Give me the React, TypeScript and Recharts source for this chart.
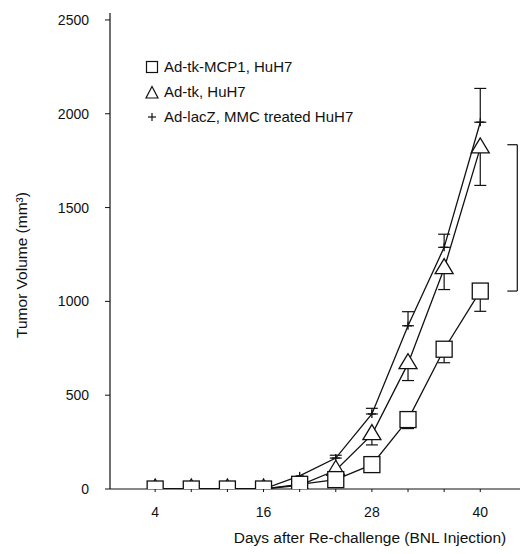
import React from "react";
import {
  ComposedChart,
  Line,
  XAxis,
  YAxis,
  ErrorBar,
  Legend,
  ReferenceLine,
  Label,
} from "recharts";

const days = [4, 8, 12, 16, 20, 24, 28, 32, 36, 40];
const mcp1 = [0, 0, 0, 0, 25, 50, 130, 370, 745, 1055];
const mcp1Err = [0, 0, 0, 0, 0, 0, 0, 48, 72, 108];
const tk = [0, 0, 0, 0, 20, 100, 290, 668, 1175, 1818];
const tkErr = [0, 0, 0, 0, 0, 0, 55, 90, 112, 200];
const lacz = [0, 0, 0, 0, 70, 165, 400, 870, 1288, 1955];
const laczErr = [0, 0, 0, 0, 0, 15, 30, 75, 70, 180];

const xTicks = [4, 8, 12, 16, 20, 24, 28, 32, 36, 40];
const xLabelTicks = [4, 16, 28, 40];
const yTicks = [0, 500, 1000, 1500, 2000, 2500];

const seriesNames = ["Ad-tk-MCP1, HuH7", "Ad-tk, HuH7", "Ad-lacZ, MMC treated HuH7"];

const bracketLow = 1055;
const bracketHigh = 1835;

const data = days.map((d, i) => ({
  day: d,
  mcp1: mcp1[i],
  mcp1Err: mcp1Err[i] > 0 ? [mcp1Err[i], 0] : undefined,
  tk: tk[i],
  tkErr: tkErr[i] > 0 ? [tkErr[i], 0] : undefined,
  lacz: lacz[i],
  laczErr: laczErr[i] > 0 ? [0, laczErr[i]] : undefined,
}));

const FONT = "'Liberation Sans', Arial, sans-serif";
const INK = "#111";

const SquareDot = (props: any) => {
  const { cx, cy } = props;
  if (cx == null || cy == null) return null;
  return <rect x={cx - 8} y={cy - 8} width={16} height={16} fill="#fff" stroke={INK} strokeWidth={1.3} />;
};
const TriangleDot = (props: any) => {
  const { cx, cy } = props;
  if (cx == null || cy == null) return null;
  return (
    <polygon
      points={`${cx},${cy - 10} ${cx - 9},${cy + 5} ${cx + 9},${cy + 5}`}
      fill="#fff"
      stroke={INK}
      strokeWidth={1.3}
    />
  );
};
const PlusDot = (props: any) => {
  const { cx, cy } = props;
  if (cx == null || cy == null) return null;
  return (
    <g stroke={INK} strokeWidth={1.3}>
      <line x1={cx - 4} y1={cy} x2={cx + 4} y2={cy} />
      <line x1={cx} y1={cy - 4} x2={cx} y2={cy + 4} />
    </g>
  );
};

const LegendContent = () => (
  <div style={{ fontFamily: FONT, fontSize: 15, color: INK, lineHeight: "25px" }}>
    <div style={{ display: "flex", alignItems: "center" }}>
      <svg width={14} height={14} style={{ marginRight: 5 }}>
        <rect x={1.5} y={1.5} width={11} height={11} fill="#fff" stroke={INK} strokeWidth={1.2} />
      </svg>
      {seriesNames[0]}
    </div>
    <div style={{ display: "flex", alignItems: "center" }}>
      <svg width={14} height={14} style={{ marginRight: 5 }}>
        <polygon points="7,1.5 1,13 13,13" fill="#fff" stroke={INK} strokeWidth={1.2} />
      </svg>
      {seriesNames[1]}
    </div>
    <div style={{ display: "flex", alignItems: "center" }}>
      <svg width={14} height={14} style={{ marginRight: 5 }}>
        <g stroke={INK} strokeWidth={1.2}>
          <line x1={3} y1={7} x2={11} y2={7} />
          <line x1={7} y1={3} x2={7} y2={11} />
        </g>
      </svg>
      {seriesNames[2]}
    </div>
  </div>
);

const XTick = (props: any) => {
  const { x, y, payload } = props;
  if (!xLabelTicks.includes(payload.value)) return null;
  return (
    <text x={x} y={y} dy="0.71em" textAnchor="middle" fontFamily={FONT} fontSize={14} fill={INK}>
      {payload.value}
    </text>
  );
};

const YTitle = (props: any) => {
  const vb = props.viewBox || {};
  const cx = 21;
  const cy = (vb.y ?? 0) + (vb.height ?? 0) / 2 + 14;
  return (
    <text
      x={cx}
      y={cy}
      transform={`rotate(-90 ${cx} ${cy})`}
      textAnchor="middle"
      dominantBaseline="central"
      fontFamily={FONT}
      fontSize={15.5}
      fill={INK}
    >
      Tumor Volume (mm³)
    </text>
  );
};

export default function App() {
  return (
    <div style={{ position: "absolute", left: 0, top: 0, width: 520, height: 554, background: "#fff" }}>
      <ComposedChart
        width={520}
        height={554}
        data={data}
        margin={{ top: 13, right: 0, bottom: 30, left: 40 }}
      >
        <XAxis
          dataKey="day"
          type="number"
          domain={[-1, 44.4]}
          ticks={xTicks}
          allowDataOverflow
          tick={<XTick />}
          tickSize={3}
          tickMargin={15}
          height={35}
          stroke={INK}
          axisLine={{ stroke: INK, strokeWidth: 1.2 }}
          tickLine={{ stroke: INK }}
        >
          <Label
            value="Days after Re-challenge (BNL Injection)"
            position="insideBottom"
            offset={-19}
            dx={55}
            style={{ fontFamily: FONT, fontSize: 15.5, fill: INK }}
          />
        </XAxis>
        <YAxis
          type="number"
          domain={[0, 2537]}
          ticks={yTicks}
          allowDataOverflow
          width={70}
          tickSize={5}
          tickMargin={16}
          stroke={INK}
          axisLine={{ stroke: INK, strokeWidth: 1.2 }}
          tickLine={{ stroke: INK }}
          tick={{ fontFamily: FONT, fontSize: 14, fill: INK }}
        >
          <Label content={<YTitle />} />
        </YAxis>
        <Legend
          verticalAlign="middle"
          align="center"
          layout="vertical"
          content={<LegendContent />}
          wrapperStyle={{ left: 145, top: 54, width: 300 }}
        />
        <ReferenceLine
          segment={[{ x: 44.1, y: bracketLow }, { x: 44.1, y: bracketHigh }]}
          stroke={INK}
          strokeWidth={1.2}
          ifOverflow="visible"
        />
        <ReferenceLine
          segment={[{ x: 43.0, y: bracketHigh }, { x: 44.1, y: bracketHigh }]}
          stroke={INK}
          strokeWidth={1.2}
          ifOverflow="visible"
        />
        <ReferenceLine
          segment={[{ x: 43.0, y: bracketLow }, { x: 44.1, y: bracketLow }]}
          stroke={INK}
          strokeWidth={1.2}
          ifOverflow="visible"
        />
        <Line
          dataKey="lacz"
          stroke={INK}
          strokeWidth={1.3}
          dot={<PlusDot />}
          activeDot={false}
          isAnimationActive={false}
          legendType="none"
        >
          <ErrorBar dataKey="laczErr" direction="y" width={6} stroke={INK} strokeWidth={1.2} />
        </Line>
        <Line
          dataKey="tk"
          stroke={INK}
          strokeWidth={1.3}
          dot={<TriangleDot />}
          activeDot={false}
          isAnimationActive={false}
          legendType="none"
        >
          <ErrorBar dataKey="tkErr" direction="y" width={6} stroke={INK} strokeWidth={1.2} />
        </Line>
        <Line
          dataKey="mcp1"
          stroke={INK}
          strokeWidth={1.3}
          dot={<SquareDot />}
          activeDot={false}
          isAnimationActive={false}
          legendType="none"
        >
          <ErrorBar dataKey="mcp1Err" direction="y" width={6} stroke={INK} strokeWidth={1.2} />
        </Line>
      </ComposedChart>
    </div>
  );
}
